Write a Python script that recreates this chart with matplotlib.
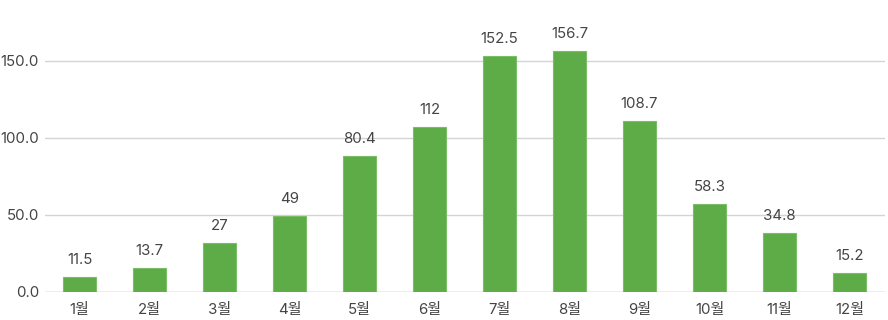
import matplotlib
matplotlib.use("Agg")
import matplotlib.pyplot as plt

months = ["1월", "2월", "3월", "4월", "5월", "6월", "7월", "8월", "9월", "10월", "11월", "12월"]
bar_values = [9.4, 15.6, 31.4, 49.4, 88.3, 107.1, 153.2, 156.5, 111.0, 57.1, 38.3, 12.3]
label_values = ["11.5", "13.7", "27", "49", "80.4", "112", "152.5", "156.7", "108.7", "58.3", "34.8", "15.2"]
yticks = [0, 50, 100, 150]

plt.rcParams['font.family'] = ['Inter', 'Noto Sans CJK KR', 'DejaVu Sans']

W, H = 888, 320
fig = plt.figure(figsize=(W / 100, H / 100), dpi=100)
left, right = 44.5, 884.5
bottom_px = 291.7
ymax = 170
ppu = 231 / 150
top_px = bottom_px - ymax * ppu
ax = fig.add_axes([left / W, (H - bottom_px) / H, (right - left) / W, (bottom_px - top_px) / H])

x = list(range(len(months)))
ax.bar(x, bar_values, width=0.46, color="#5eac47", edgecolor="#79bd66", linewidth=0.8, zorder=3)
for xi, v, lab in zip(x, bar_values, label_values):
    ax.annotate(lab, (xi, v), xytext=(0, 12.3), textcoords="offset points",
                ha="center", va="center", fontsize=10.8, color="#444444")

ax.set_xlim(-0.5, len(months) - 0.5)
ax.set_ylim(0, ymax)
ax.set_yticks(yticks)
ax.set_yticklabels([f"{t:.1f}" for t in yticks])
ax.set_xticks(x)
ax.set_xticklabels(months)
ax.grid(axis="y", color="#d4d4d4", linewidth=1, zorder=0)
for s in ["top", "right", "left", "bottom"]:
    ax.spines[s].set_visible(False)
ax.axhline(0, color="#cccccc", linewidth=1, zorder=2)
ax.tick_params(axis="both", length=0, labelsize=10.8, colors="#444444")
ax.tick_params(axis="x", pad=8)
ax.tick_params(axis="y", pad=4)

fig.savefig("out.png", dpi=100)
